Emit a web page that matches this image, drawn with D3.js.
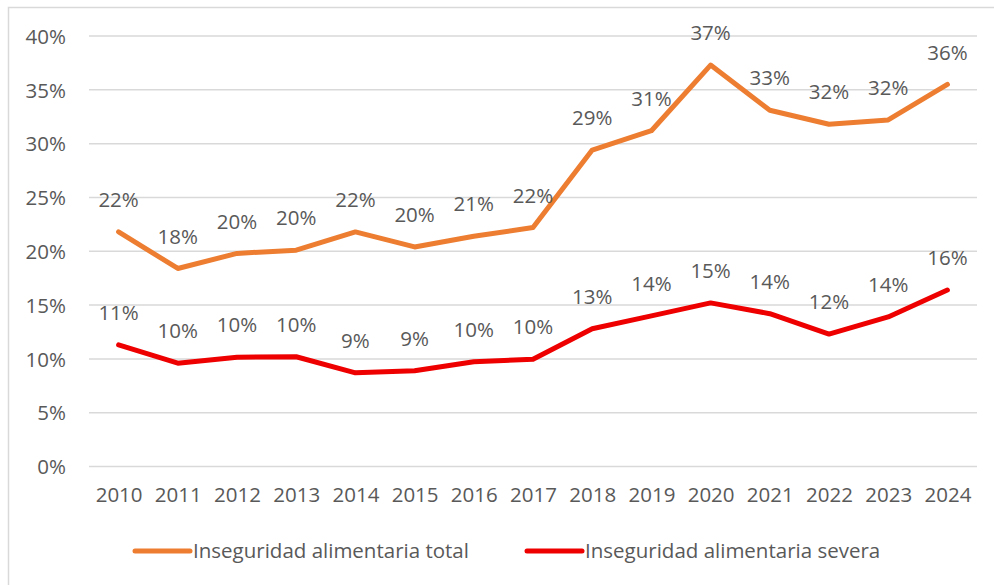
<!DOCTYPE html>
<html><head><meta charset="utf-8">
<script src="https://cdn.jsdelivr.net/npm/d3@7"></script>
<style>body{margin:0;background:#fff}svg{display:block}text{font-family:"Open Sans",sans-serif}</style>
</head><body>
<script>
const years = ["2010","2011","2012","2013","2014","2015","2016","2017","2018","2019","2020","2021","2022","2023","2024"];
const total = [21.8,18.4,19.8,20.1,21.8,20.4,21.4,22.2,29.4,31.2,37.3,33.1,31.8,32.2,35.5];
const severa = [11.3,9.6,10.15,10.2,8.7,8.9,9.74,9.96,12.8,14.0,15.2,14.2,12.3,13.9,16.4];
const yTicks = [0,5,10,15,20,25,30,35,40];
const seriesNames = ["Inseguridad alimentaria total","Inseguridad alimentaria severa"];
const colors = ["#ED7D31","#EE0000"];

const W=994,H=585;
const svg=d3.select("body").append("svg").attr("width",W).attr("height",H);
svg.append("rect").attr("x",8.5).attr("y",7.5).attr("width",1000).attr("height",600)
  .attr("fill","none").attr("stroke","#d9d9d9").attr("stroke-width",1.5);

const x=d3.scalePoint().domain(years).range([89,977]).padding(0.5);
const y=d3.scaleLinear().domain([0,40]).range([466.5,36]);
const textColor="#595959", fs=20.5;

const grid=svg.append("g");
grid.selectAll("line").data(yTicks).join("line")
  .attr("x1",89).attr("x2",977).attr("y1",d=>y(d)).attr("y2",d=>y(d))
  .attr("stroke","#d9d9d9").attr("stroke-width",1.5);

const yAxis=svg.append("g").attr("transform","translate(66,0)")
  .call(d3.axisLeft(y).tickValues(yTicks).tickFormat(d=>d+"%").tickSize(0));
yAxis.select(".domain").remove();
yAxis.selectAll("text").attr("fill",textColor).attr("font-size",fs).attr("font-family","Open Sans").attr("dy","0.35em").attr("x",0);

const xAxis=svg.append("g").attr("transform","translate(0,484)")
  .call(d3.axisBottom(x).tickSize(0));
xAxis.select(".domain").remove();
xAxis.selectAll("text").attr("fill",textColor).attr("font-size",fs).attr("font-family","Open Sans").attr("dy","0.71em");

const line=d3.line().x((d,i)=>x(years[i])).y(d=>y(d)).curve(d3.curveLinear);
[total,severa].forEach((s,k)=>{
  svg.append("path").attr("d",line(s)).attr("fill","none").attr("stroke",colors[k])
    .attr("stroke-width",5).attr("stroke-linejoin","round").attr("stroke-linecap","round");
  svg.append("g").selectAll("text").data(s).join("text")
    .attr("x",(d,i)=>x(years[i])).attr("y",d=>y(d)-32).attr("dy","0.35em")
    .attr("text-anchor","middle").attr("fill",textColor).attr("font-size",fs)
    .text(d=>Math.round(d)+"%");
});

const legX=[135,527];
seriesNames.forEach((n,k)=>{
  svg.append("line").attr("x1",legX[k]).attr("x2",legX[k]+55).attr("y1",551).attr("y2",551)
    .attr("stroke",colors[k]).attr("stroke-width",5).attr("stroke-linecap","round");
  svg.append("text").attr("x",legX[k]+58).attr("y",551).attr("dy","0.35em")
    .attr("fill",textColor).attr("font-size",fs).text(n);
});
</script>
</body></html>
